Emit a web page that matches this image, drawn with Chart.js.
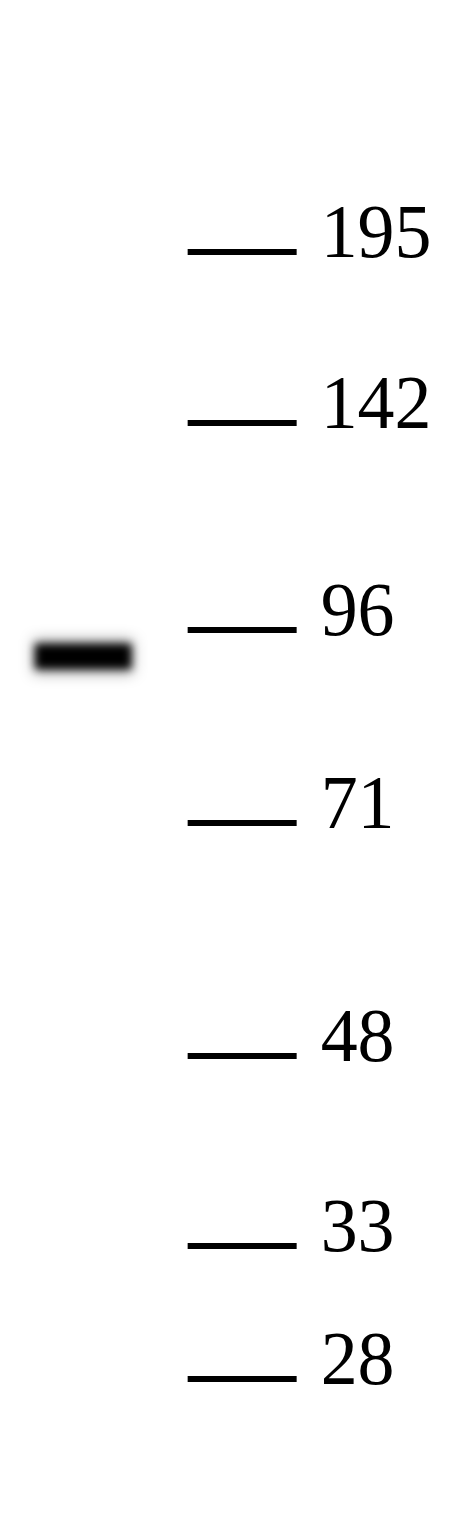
<!DOCTYPE html>
<html>
<head>
<meta charset="utf-8">
<style>
  html, body { margin: 0; padding: 0; background: #ffffff; }
  #wrap { width: 466px; height: 1520px; position: relative; }
  canvas { display: block; }
</style>
<script src="https://cdn.jsdelivr.net/npm/chart.js@4.4.1/dist/chart.umd.min.js"></script>
</head>
<body>
<div id="wrap"><canvas id="c" width="466" height="1520"></canvas></div>
<script>
// ---- Data (read from the blot) ----
// Molecular-weight ladder (kDa) and migration distance from the top of the membrane (gel units)
const markerKDa = [195, 142, 96, 71, 48, 33, 28];
const markerMigration = [25.2, 42.3, 63.0, 82.3, 105.6, 124.6, 137.9];
// Lanes (lane position units)
const sampleLane = 1.0;
const ladderLane = 2.91;
// Detected band in the sample lane
const bandMigration = [65.65];

const ladderPoints = markerMigration.map(m => ({ x: ladderLane, y: m }));
const bandPoints = bandMigration.map(m => ({ x: sampleLane, y: m }));

const blurPlugin = {
  id: 'bandBlur',
  beforeDatasetDraw(chart, args) {
    const ds = chart.data.datasets[args.index];
    if (ds.blur) {
      chart.ctx.save();
      chart.ctx.filter = 'blur(' + ds.blur + 'px)';
    }
  },
  afterDatasetDraw(chart, args) {
    const ds = chart.data.datasets[args.index];
    if (ds.blur) {
      chart.ctx.restore();
    }
  }
};

const labelPlugin = {
  id: 'ladderLabels',
  afterDatasetsDraw(chart) {
    const ctx = chart.ctx;
    const meta = chart.getDatasetMeta(0);
    const ds = chart.data.datasets[0];
    const sx = 0.96;
    ctx.save();
    ctx.fillStyle = '#000000';
    ctx.font = '77px "Liberation Serif", "Times New Roman", serif';
    ctx.textAlign = 'left';
    ctx.textBaseline = 'alphabetic';
    meta.data.forEach((pt, i) => {
      const x0 = pt.x + ds.pointRadius + 24;
      ctx.save();
      ctx.translate(x0, pt.y + 5);
      ctx.scale(sx, 1);
      ctx.fillText(String(markerKDa[i]), 0, 0);
      ctx.restore();
    });
    ctx.restore();
  }
};

new Chart(document.getElementById('c'), {
  type: 'scatter',
  data: {
    datasets: [
      {
        label: 'Ladder (kDa)',
        data: ladderPoints,
        pointStyle: 'line',
        pointRadius: 54.5,
        pointHoverRadius: 54.5,
        pointBorderWidth: 6,
        pointBorderColor: '#000000',
        pointBackgroundColor: '#000000',
        clip: false
      },
      {
        label: 'Band halo',
        data: bandPoints,
        pointStyle: 'line',
        pointRadius: 50,
        pointHoverRadius: 50,
        pointBorderWidth: 34,
        pointBorderColor: 'rgba(0,0,0,0.35)',
        clip: false,
        blur: 7
      },
      {
        label: 'Band',
        data: bandPoints,
        pointStyle: 'line',
        pointRadius: 48,
        pointHoverRadius: 48,
        pointBorderWidth: 25,
        pointBorderColor: '#000000',
        pointBackgroundColor: '#000000',
        clip: false,
        blur: 4
      }
    ]
  },
  options: {
    responsive: false,
    animation: false,
    devicePixelRatio: 1,
    layout: { padding: 0, autoPadding: false },
    events: [],
    plugins: {
      legend: { display: false },
      tooltip: { enabled: false }
    },
    scales: {
      x: { type: 'linear', min: 0, max: 5.6, display: false },
      y: { type: 'linear', min: 0, max: 152, reverse: true, display: false }
    }
  },
  plugins: [blurPlugin, labelPlugin]
});
</script>
</body>
</html>
